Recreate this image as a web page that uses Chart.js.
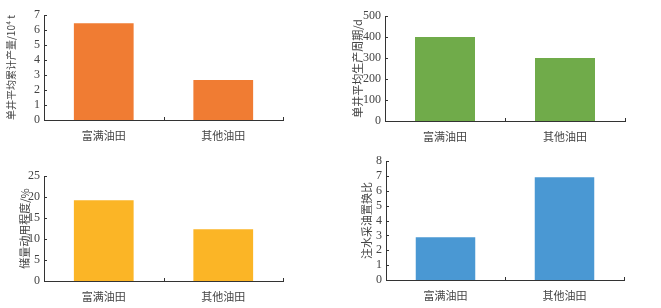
<!DOCTYPE html>
<html lang="zh">
<head>
  <meta charset="UTF-8">
  <title>富满油田与其他油田对比</title>
  <script src="https://cdn.jsdelivr.net/npm/chart.js"></script>
  <style>
    body { margin: 0; background: #fff; }
    #wrap { position: relative; width: 661px; height: 308px; }
    #wrap canvas { position: absolute; left: 0; top: 0; }
  </style>
</head>
<body>
  <div id="wrap">
    <canvas id="c1" width="661" height="308"></canvas>
    <canvas id="c2" width="661" height="308"></canvas>
    <canvas id="c3" width="661" height="308"></canvas>
    <canvas id="c4" width="661" height="308"></canvas>
  </div>
  <script>
    // 数据
    const categories = ['富满油田', '其他油田'];

    const cumOutput = [6.45, 2.67];     // 单井平均累计产量/10^4 t
    const prodPeriod = [400, 300];      // 单井平均生产周期/d
    const reserveUse = [19.2, 12.3];    // 储量动用程度/%
    const replaceRatio = [2.88, 6.9];   // 注水采油置换比

    const titles = ['单井平均累计产量/10\u2074 t', '单井平均生产周期/d', '储量动用程度/%', '注水采油置换比'];
    const yMax = [7, 500, 25, 8];
    const yStep = [1, 100, 5, 1];

    const textColor = '#444';
    const lineColor = '#333';
    const fontNum = "'Liberation Serif', 'Noto Sans CJK SC', serif";

    // 坐标轴内侧刻度
    const innerTicks = {
      id: 'innerTicks',
      afterDraw(chart) {
        const { ctx, scales: { x, y } } = chart;
        ctx.save();
        ctx.strokeStyle = lineColor;
        ctx.lineWidth = 1;
        ctx.beginPath();
        y.ticks.forEach(t => {
          const py = Math.round(y.getPixelForValue(t.value)) + 0.5;
          ctx.moveTo(x.left, py);
          ctx.lineTo(x.left + 3, py);
        });
        [0.5, 1.5].forEach(v => {
          const px = Math.round(x.getPixelForValue(v)) + 0.5;
          ctx.moveTo(px, y.bottom);
          ctx.lineTo(px, y.bottom - 3);
        });
        ctx.stroke();
        ctx.restore();
      }
    };

    // 各子图布局
    const panels = [
      { id: 'c1', data: cumOutput,    color: '#F07C33', titleX: 12,  titleSize: 10, axisX: 44,  right: 283, top: 15,  bottom: 120 },
      { id: 'c2', data: prodPeriod,   color: '#70AB4A', titleX: 358, titleSize: 11, axisX: 385, right: 625, top: 16,  bottom: 121 },
      { id: 'c3', data: reserveUse,   color: '#FBB526', titleX: 25,  titleSize: 11, axisX: 44,  right: 283, top: 176, bottom: 281 },
      { id: 'c4', data: replaceRatio, color: '#4A98D3', titleX: 367, titleSize: 11, axisX: 386, right: 624, top: 161, bottom: 280 }
    ];

    const xAxisH = 26;

    panels.forEach((p, i) => {
      const yW = p.axisX - p.titleX + 6;
      new Chart(document.getElementById(p.id), {
        type: 'bar',
        data: {
          labels: categories,
          datasets: [{
            data: p.data,
            backgroundColor: p.color,
            barPercentage: 0.5,
            categoryPercentage: 1
          }]
        },
        options: {
          responsive: false,
          animation: false,
          events: [],
          layout: {
            padding: {
              left: p.titleX - 6,
              right: 661 - p.right,
              top: p.top,
              bottom: 308 - p.bottom - xAxisH
            }
          },
          plugins: {
            legend: { display: false },
            tooltip: { enabled: false }
          },
          scales: {
            x: {
              grid: { display: false, drawTicks: false, tickLength: 0 },
              border: { display: true, color: lineColor, width: 1 },
              ticks: {
                padding: 9,
                maxRotation: 0,
                color: textColor,
                font: { family: "'Noto Sans CJK SC', sans-serif", size: 11 }
              },
              afterFit(s) { s.height = xAxisH; }
            },
            y: {
              min: 0,
              max: yMax[i],
              grid: { display: false, drawTicks: false, tickLength: 0 },
              border: { display: true, color: lineColor, width: 1 },
              ticks: {
                stepSize: yStep[i],
                autoSkip: false,
                padding: 4,
                color: textColor,
                font: { family: fontNum, size: 12 }
              },
              title: {
                display: true,
                text: titles[i],
                color: textColor,
                padding: 0,
                font: { family: "'Noto Sans CJK SC', sans-serif", size: p.titleSize, lineHeight: 1 }
              },
              afterFit(s) { s.width = yW; }
            }
          }
        },
        plugins: [innerTicks]
      });
    });
  </script>
</body>
</html>
